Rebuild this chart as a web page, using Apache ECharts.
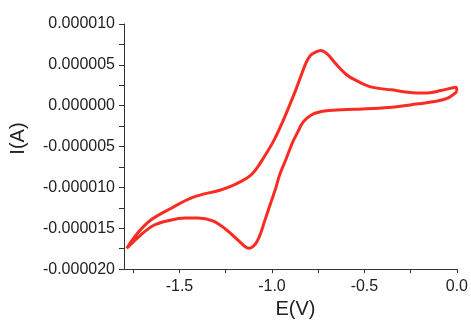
<!DOCTYPE html>
<html>
<head>
<meta charset="utf-8">
<script src="https://cdn.jsdelivr.net/npm/echarts@6/dist/echarts.min.js"></script>
<style>html,body{margin:0;padding:0;background:#fff}#c{width:471px;height:324px}</style>
</head>
<body>
<div id="c"></div>
<script>
// Potential (V) and current (µA), in sweep order
var potentialV = [0.000,-0.050,-0.121,-0.246,-0.371,-0.514,-0.595,-0.693,-0.733,-0.773,-0.809,-0.837,-0.860,-0.889,-0.924,-0.960,-0.978,-1.005,-1.041,-1.060,-1.080,-1.100,-1.121,-1.142,-1.184,-1.255,-1.320,-1.400,-1.470,-1.550,-1.639,-1.710,-1.785,
  -1.728,-1.657,-1.550,-1.425,-1.282,-1.220,-1.175,-1.135,-1.105,-1.077,-1.050,-0.996,-0.943,-0.871,-0.817,-0.791,-0.764,-0.737,-0.700,-0.657,-0.595,-0.550,-0.461,-0.354,-0.264,-0.175,-0.086,-0.005,0.000];
var currentUA = [1.73,0.93,0.52,0.12,-0.21,-0.40,-0.46,-0.60,-0.72,-0.97,-1.50,-2.20,-3.20,-4.52,-6.55,-8.57,-10.0,-11.79,-14.22,-15.55,-16.60,-17.20,-17.45,-17.30,-16.45,-15.03,-14.1,-13.75,-13.75,-14.02,-14.63,-15.84,-17.45,
  -15.64,-14.02,-12.61,-11.19,-10.35,-9.85,-9.35,-8.85,-8.30,-7.50,-6.55,-4.52,-2.0,1.94,5.18,6.18,6.55,6.75,6.30,5.18,3.76,3.15,2.27,1.94,1.66,1.54,1.85,2.27,1.73];
var xLabelValues = [-1.5,-1.0,-0.5,0.0];
var xTickValues = [-1.75,-1.5,-1.25,-1.0,-0.75,-0.5,-0.25,0.0];
var yTickValues = [-0.00002,-0.0000175,-0.000015,-0.0000125,-0.00001,-0.0000075,-0.000005,-0.0000025,0,0.0000025,0.000005,0.0000075,0.00001];

var data = potentialV.map(function(e,i){return [e, currentUA[i]*1e-6];});
var chart = echarts.init(document.getElementById('c'));
var txt = {color:'#222', fontFamily:'Liberation Sans', fontSize:16};
chart.setOption({
  animation:false,
  grid:{left:124,right:12,top:24,bottom:52},
  xAxis:{
    type:'value', min:-1.8, max:0,
    name:'E(V)', nameLocation:'middle', nameGap:29,
    nameTextStyle:{color:'#222', fontFamily:'Liberation Sans', fontSize:20, padding:[0,0,0,10]},
    axisLine:{show:true, onZero:false, lineStyle:{color:'#333', width:1}},
    axisTick:{show:true, length:4, customValues:xTickValues, lineStyle:{color:'#333'}},
    axisLabel:Object.assign({customValues:xLabelValues, margin:9, formatter:function(v){return v.toFixed(1);}}, txt),
    splitLine:{show:false}
  },
  yAxis:{
    type:'value', min:-0.00002, max:0.00001, interval:0.000005,
    name:'I(A)', nameLocation:'middle', nameGap:96,
    nameTextStyle:{color:'#222', fontFamily:'Liberation Sans', fontSize:20, padding:[0,0,0,16]},
    axisLine:{show:true, onZero:false, lineStyle:{color:'#333', width:1}},
    axisTick:{show:true, length:5, customValues:yTickValues, lineStyle:{color:'#333'}},
    axisLabel:Object.assign({margin:9, formatter:function(v){return v.toFixed(6);}}, txt),
    splitLine:{show:false}
  },
  series:[{
    type:'line', data:data, showSymbol:false, smooth:0.35,
    lineStyle:{color:'#fa2b20', width:3}
  }]
});
</script>
</body>
</html>
